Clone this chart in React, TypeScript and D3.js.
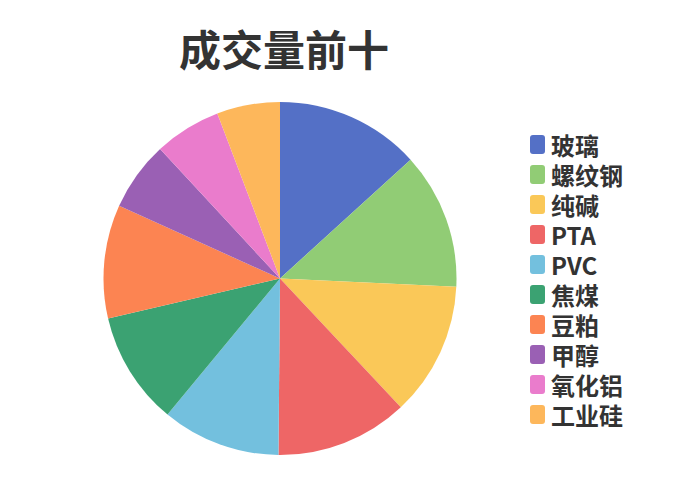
import React from "react";
import * as d3 from "d3";

const categories = ["玻璃", "螺纹钢", "纯碱", "PTA", "PVC", "焦煤", "豆粕", "甲醇", "氧化铝", "工业硅"];
const volumes = [47.7, 45.0, 44.1, 43.7, 39.1, 37.3, 37.4, 22.9, 22.0, 20.8];
const colors = ["#5470c6", "#91cc75", "#fac858", "#ee6666", "#73c0de", "#3ba272", "#fc8452", "#9a60b4", "#ea7ccc", "#fdb75b"];
const title = "成交量前十";

const W = 700;
const H = 500;
const font = "'Noto Sans CJK SC', 'Noto Sans', sans-serif";

export default function App() {
  const cx = 280;
  const cy = 278.5;
  const r = 176.5;
  const pie = d3.pie<number>().sort(null).value((d) => d);
  const arcs = pie(volumes);
  const arc = d3.arc<d3.PieArcDatum<number>>().innerRadius(0).outerRadius(r);

  const legendY = d3.scalePoint<string>().domain(categories).range([144.5, 414.5]);

  return (
    <svg width={W} height={H} style={{ position: "absolute", left: 0, top: 0 }}>
      <rect width={W} height={H} fill="#ffffff" />
      <text x={284} y={47} textAnchor="middle" dominantBaseline="central" fontFamily={font} fontSize={42} fontWeight="bold" fill="#333333">
        {title}
      </text>
      <g transform={`translate(${cx},${cy})`}>
        {arcs.map((a, i) => (
          <path key={categories[i]} d={arc(a) || ""} fill={colors[i]} />
        ))}
      </g>
      <g>
        {categories.map((c, i) => {
          const y = legendY(c) as number;
          return (
            <g key={c}>
              <rect x={530} y={y - 9.5} width={15} height={19} rx={3} fill={colors[i]} />
              <text x={551} y={y} dominantBaseline="central" fontFamily={font} fontSize={24} fontWeight="bold" fill="#333333">
                {c}
              </text>
            </g>
          );
        })}
      </g>
    </svg>
  );
}
